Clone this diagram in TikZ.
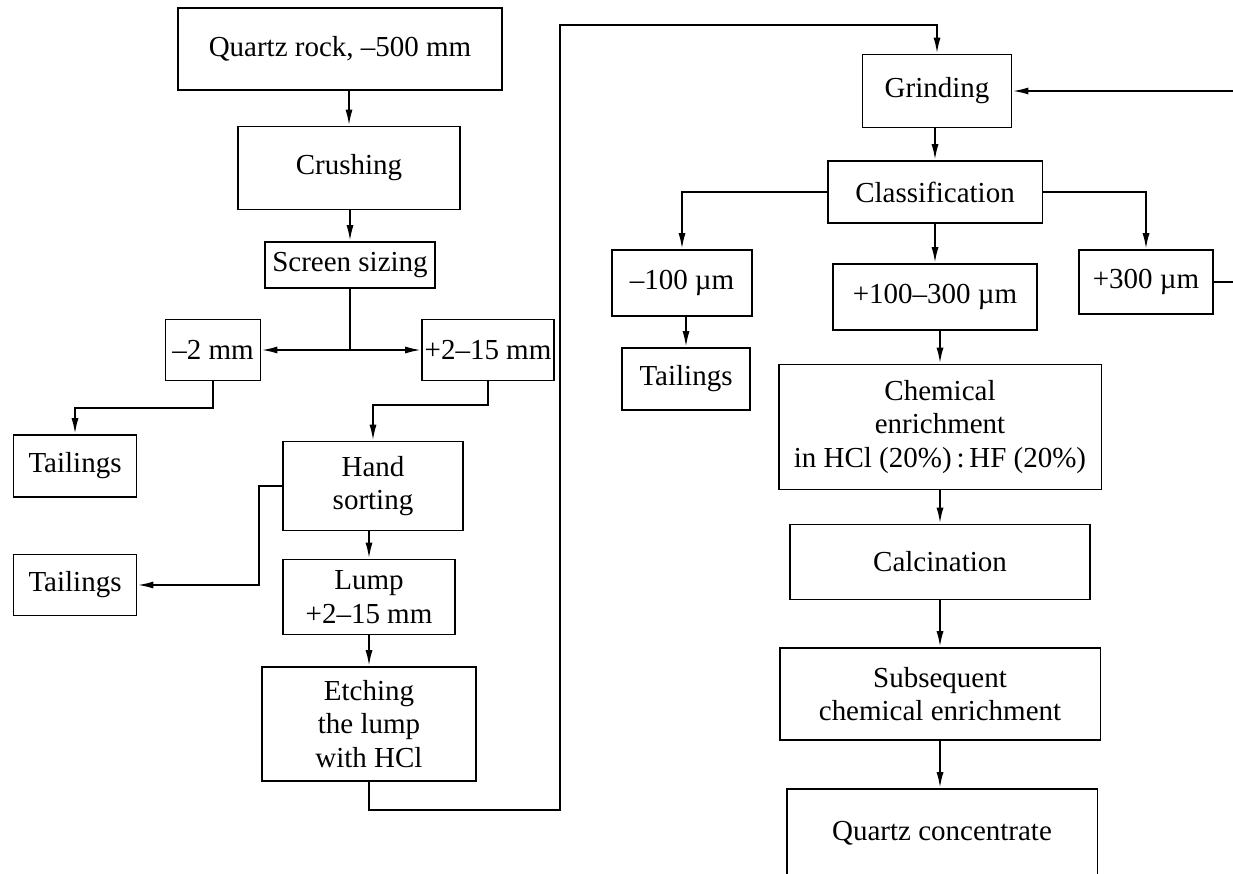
\documentclass[tikz,border=0pt]{standalone}
\usepackage{fontspec}
\setmainfont{Liberation Serif}
\usepackage{tikz}
\usetikzlibrary{arrows.meta}
\usetikzlibrary{positioning}

\begin{document}
\begin{tikzpicture}[x=0.02cm,y=-0.02cm,line width=1.1pt,
  every node/.style={draw,line width=1.1pt,inner sep=1pt,align=center,font=\fontsize{16.5}{19}\selectfont},
  arr/.style={-{Latex[length=9pt,width=4pt]}}]
  \clip (0,0) rectangle (1233,874);
  \node (rock) at (340,49)[minimum width=6.48cm,minimum height=1.64cm]{Quartz rock, –500 mm};
  \node (crush) at (349,168)[minimum width=4.44cm,minimum height=1.66cm]{Crushing};
  \node (screen) at (350,265)[minimum width=3.4cm,minimum height=0.92cm]{Screen sizing};
  \node (m2) at (213,350)[minimum width=1.9cm,minimum height=1.22cm]{–2 mm};
  \node (p215) at (488,350)[minimum width=2.64cm,minimum height=1.22cm]{+2–15 mm};
  \node (tail1) at (75,466)[minimum width=2.46cm,minimum height=1.24cm]{Tailings};
  \node (hand) at (373,486)[minimum width=3.6cm,minimum height=1.78cm]{Hand\\sorting};
  \node (tail2) at (75,585)[minimum width=2.46cm,minimum height=1.22cm]{Tailings};
  \node (lump) at (369,597)[minimum width=3.44cm,minimum height=1.5cm]{Lump\\+2–15 mm};
  \node (etch) at (369,724)[minimum width=4.28cm,minimum height=2.28cm]{Etching\\the lump\\with HCl};
  \node (grind) at (937,91)[minimum width=2.98cm,minimum height=1.46cm]{Grinding};
  \node (class) at (935,192)[minimum width=4.3cm,minimum height=1.24cm]{Classification};
  \node (m100) at (682,283)[minimum width=2.8cm,minimum height=1.32cm]{–100 µm};
  \node (p100) at (935,297)[minimum width=4.08cm,minimum height=1.32cm]{+100–300 µm};
  \node (p300) at (1146,282)[minimum width=2.68cm,minimum height=1.28cm]{+300 µm};
  \node (tail3) at (686,379)[minimum width=2.56cm,minimum height=1.24cm]{Tailings};
  \node (chem) at (940,427)[minimum width=6.46cm,minimum height=2.5cm]{Chemical\\enrichment\\in HCl (20\%)\,:\,HF (20\%)};
  \node (calc) at (940,562)[minimum width=6cm,minimum height=1.5cm]{Calcination};
  \node (subs) at (940,694)[minimum width=6.42cm,minimum height=1.84cm]{Subsequent\\chemical enrichment};
  \node (conc) at (942,833)[minimum width=6.22cm,minimum height=1.76cm]{Quartz concentrate};
  \coordinate (turn) at (560,810);
  \coordinate (top) at (560,25);
  \coordinate (loop) at (1250,94);
  \draw[arr](rock.south -| crush.north)--(crush.north);
  \draw[arr](crush.south -| screen.north)--(screen.north);
  \draw(screen.south)--(screen.south |- m2.east) coordinate (split);
  \draw[arr](split)--(m2.east);
  \draw[arr](split)--(p215.west);
  \draw[arr](m2.south)--++(0,27)-|(tail1.north);
  \draw[arr](p215.south)--++(0,24)-|(hand.north);
  \draw[arr](hand.west)--++(-23,0)|-(tail2.east);
  \draw[arr](hand.south -| lump.north)--(lump.north);
  \draw[arr](lump)--(etch);
  \draw[arr](etch.south)|-(turn)--(top)-|(grind.north);
  \draw[arr](grind.south -| class.north)--(class.north);
  \draw[arr](class.west)-|(m100.north);
  \draw[arr](class)--(p100);
  \draw[arr](class.east)-|(p300.north);
  \draw[arr](p300.east)-|(loop)|-(grind.east);
  \draw[arr](m100.south -| tail3.north)--(tail3.north);
  \draw[arr](p100.south -| chem.north)--(chem.north);
  \draw[arr](chem)--(calc);
  \draw[arr](calc)--(subs);
  \draw[arr](subs.south)--(subs.south |- conc.north);
\end{tikzpicture}
\end{document}
